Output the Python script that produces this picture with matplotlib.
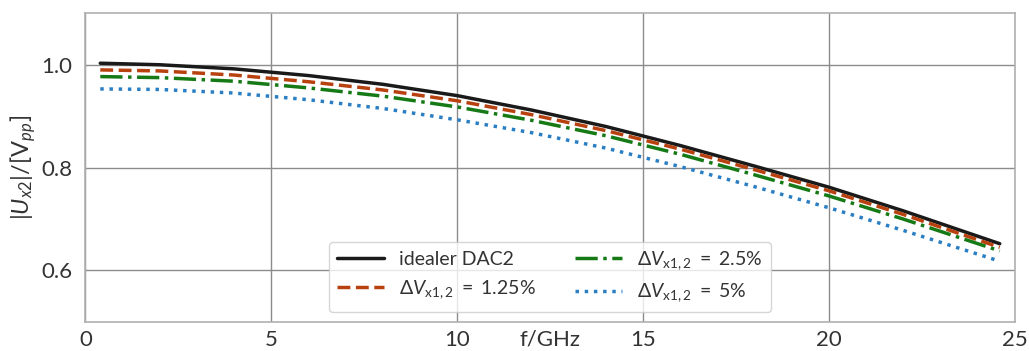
import numpy as np
import matplotlib.pyplot as plt
import seaborn as sns

f = [0.4, 2, 4, 6, 8, 10, 12, 14, 16, 18, 20, 22, 24.6]
ideal = [1.003, 1.000, 0.992, 0.979, 0.962, 0.940, 0.912, 0.880, 0.843, 0.803, 0.762, 0.716, 0.652]
dv125 = [0.990, 0.988, 0.980, 0.967, 0.951, 0.930, 0.903, 0.872, 0.836, 0.796, 0.755, 0.709, 0.645]
dv25 = [0.977, 0.975, 0.968, 0.955, 0.939, 0.918, 0.892, 0.862, 0.826, 0.786, 0.745, 0.700, 0.638]
dv5 = [0.953, 0.952, 0.945, 0.932, 0.915, 0.893, 0.868, 0.838, 0.802, 0.763, 0.722, 0.678, 0.618]

sns.set_style("whitegrid")
plt.rcParams['font.family'] = ['Lato', 'DejaVu Sans']
plt.rcParams['mathtext.fontset'] = 'custom'
plt.rcParams['mathtext.rm'] = 'Lato'
plt.rcParams['mathtext.it'] = 'Lato:italic'
plt.rcParams['mathtext.bf'] = 'Lato:bold'

fig, ax = plt.subplots(figsize=(10.29, 3.51), dpi=100)
fig.subplots_adjust(left=0.083, right=0.986, top=0.962, bottom=0.083)

ax.plot(f, ideal, color='#1a1a1a', lw=2.5, ls='-', label='idealer DAC2')
ax.plot(f, dv125, color='#b8420f', lw=2.5, ls='--', label=r'$\Delta V_{\mathrm{x}1,2}\ =\ 1.25\%$')
ax.plot(f, dv25, color='#157a15', lw=2.5, ls='-.', label=r'$\Delta V_{\mathrm{x}1,2}\ =\ 2.5\%$')
ax.plot(f, dv5, color='#2a7fc4', lw=2.5, ls=':', label=r'$\Delta V_{\mathrm{x}1,2}\ =\ 5\%$')

ax.set_xlim(0, 25)
ax.set_ylim(0.5, 1.1)
ax.set_xticks([0, 5, 10, 15, 20, 25])
ax.set_yticks([0.6, 0.8, 1.0])
ax.grid(True, color='#8c8c8c', lw=1)
for s in ax.spines.values():
    s.set_color('#b0b0b0')
    s.set_linewidth(1.2)
ax.tick_params(labelsize=16, colors='#333333')
ax.tick_params(axis='x', pad=2)
ax.tick_params(axis='y', pad=6)
ax.set_xlabel('f/GHz', fontsize=16, color='#333333')
ax.xaxis.set_label_coords(0.5, -0.024)
ax.set_ylabel(r'$|U_{x2}|/[\mathrm{V}_{pp}]$', fontsize=17, color='#333333', labelpad=2)

leg = ax.legend(loc='lower center', ncol=2, fontsize=14, frameon=True,
                handlelength=2.4, columnspacing=2.0, borderaxespad=0.5,
                bbox_to_anchor=(0.5, 0.0))
for t in leg.get_texts():
    t.set_color('#333333')

fig.savefig('out.png', dpi=100)
